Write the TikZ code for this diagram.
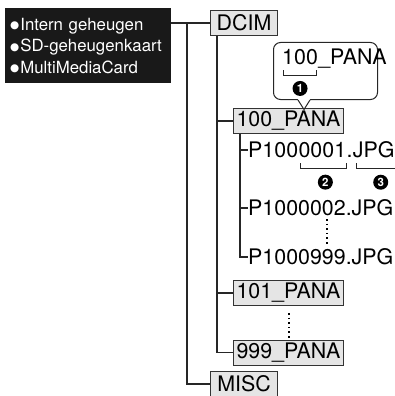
\documentclass[tikz,border=0pt]{standalone}
\usepackage{fontspec}
\setmainfont{TeX Gyre Heros}
\newfontfamily\symfont{DejaVu Sans}
\usepackage{tikz}
\usetikzlibrary{positioning, calc}

\newcommand{\mediabullet}{\raisebox{1.5pt}{\symfont\fontsize{10.5}{10.5}\selectfont ●}\hspace{1pt}}

\tikzset{
  folder/.style={draw=black!80, fill=black!10, line width=1pt, inner xsep=3pt, inner ysep=0pt, minimum height=25pt, font=\fontsize{21.4}{21.4}\selectfont},
  file/.style={inner sep=0pt, font=\fontsize{21.4}{21.4}\selectfont},
  branch/.style={line width=1.2pt, black!85},
  brace/.style={line width=1pt, black!85},
  num/.style={circle, fill=black, text=white, inner sep=0pt, minimum size=15pt, font=\bfseries\fontsize{11.5}{11.5}\selectfont},
  vdots/.style={line width=1.6pt, dash pattern=on 1.6pt off 3pt},
}

\begin{document}
\begin{tikzpicture}[x=1pt, y=-1pt]
    \useasboundingbox (0,0) rectangle (394,396);

    % Storage media
    \node[fill=black!90, text=white, anchor=north west, minimum height=75pt, text width=156pt, inner xsep=5pt, inner ysep=0pt, align=left, font=\fontsize{16.8}{21.5}\selectfont] (media) at (5,8) {\mediabullet Intern geheugen\\\mediabullet SD-geheugenkaart\\\mediabullet MultiMediaCard};

    % Folders
    \node[folder, anchor=west, minimum width=67pt] (dcim) at (210,23) {DCIM};
    \node[folder, anchor=west] (pana100) at (233,121) {100\_PANA};
    \node[folder, anchor=west] (pana101) at (233,293) {101\_PANA};
    \node[folder, anchor=west] (pana999) at (233,352.5) {999\_PANA};
    \node[folder, anchor=west, minimum width=67pt] (misc) at (210,384) {MISC};

    % Files
    \node[file, anchor=west] (f001a) at (248,150) {P100};
    \node[file, anchor=base west] (f001b) at (f001a.base east) {0001};
    \node[file, anchor=base west] (f001c) at (f001b.base east) {.};
    \node[file, anchor=base west] (f001d) at (f001c.base east) {JPG};
    \node[file, anchor=west] (f002) at (248,208) {P1000002.JPG};
    \node[file, anchor=west] (f999) at (248,257) {P1000999.JPG};

    % Tree lines
    \coordinate (trunk) at (187,0);
    \coordinate (dtrunk) at (217,0);
    \coordinate (ftrunk) at (240,0);
    \draw[branch] (media.east |- dcim.west) -- (dcim.west);
    \draw[branch] (trunk |- dcim.west) |- (misc.west);
    \draw[branch] (dtrunk |- dcim.south) |- (pana999.west);
    \draw[branch] (dtrunk |- pana100.west) -- (pana100.west);
    \draw[branch] (dtrunk |- pana101.west) -- (pana101.west);
    \draw[branch] (ftrunk |- pana100.south) |- (f999.west);
    \draw[branch] (ftrunk |- f001a.west) -- (f001a.west);
    \draw[branch] (ftrunk |- f002.west) -- (f002.west);

    \draw[vdots] (327,219) -- (327,244);
    \draw[vdots] (289,313) -- (289,338);

    % Callout
    \node[draw=black!85, line width=1pt, fill=white, rounded corners=7pt, anchor=north west, minimum width=104pt, minimum height=57pt, inner sep=0pt] (callout) at (273,42) {};
    \fill[white] (297.5,98.5) -- (304,109.5) -- (310.5,98.5) -- cycle;
    \draw[black!85, line width=1pt] (298,100) -- (304,109.5) -- (310,100);
    \node[file, anchor=west] (c100) at (282,57.5) {100};
    \node[file, anchor=base west] (cpana) at (c100.base east) {\_PANA};

    % Brackets
    \draw[brace] ($(c100.south west)+(1,5)$) -- ++(0,5) -| ($(c100.south east)+(-2,5)$);
    \node[num] at ($(c100.south)+(0,23)$) {1};
    \draw[brace] ($(f001b.south west)+(2,5)$) -- ++(0,5) -| ($(f001b.south east)+(0,5)$);
    \node[num] at ($(f001b.south)+(3,24)$) {2};
    \draw[brace] ($(f001d.south west)+(4,5)$) -- ++(0,5) -- ++(50,0);
    \node[num] at ($(f001d.south)+(7,24)$) {3};
\end{tikzpicture}
\end{document}
